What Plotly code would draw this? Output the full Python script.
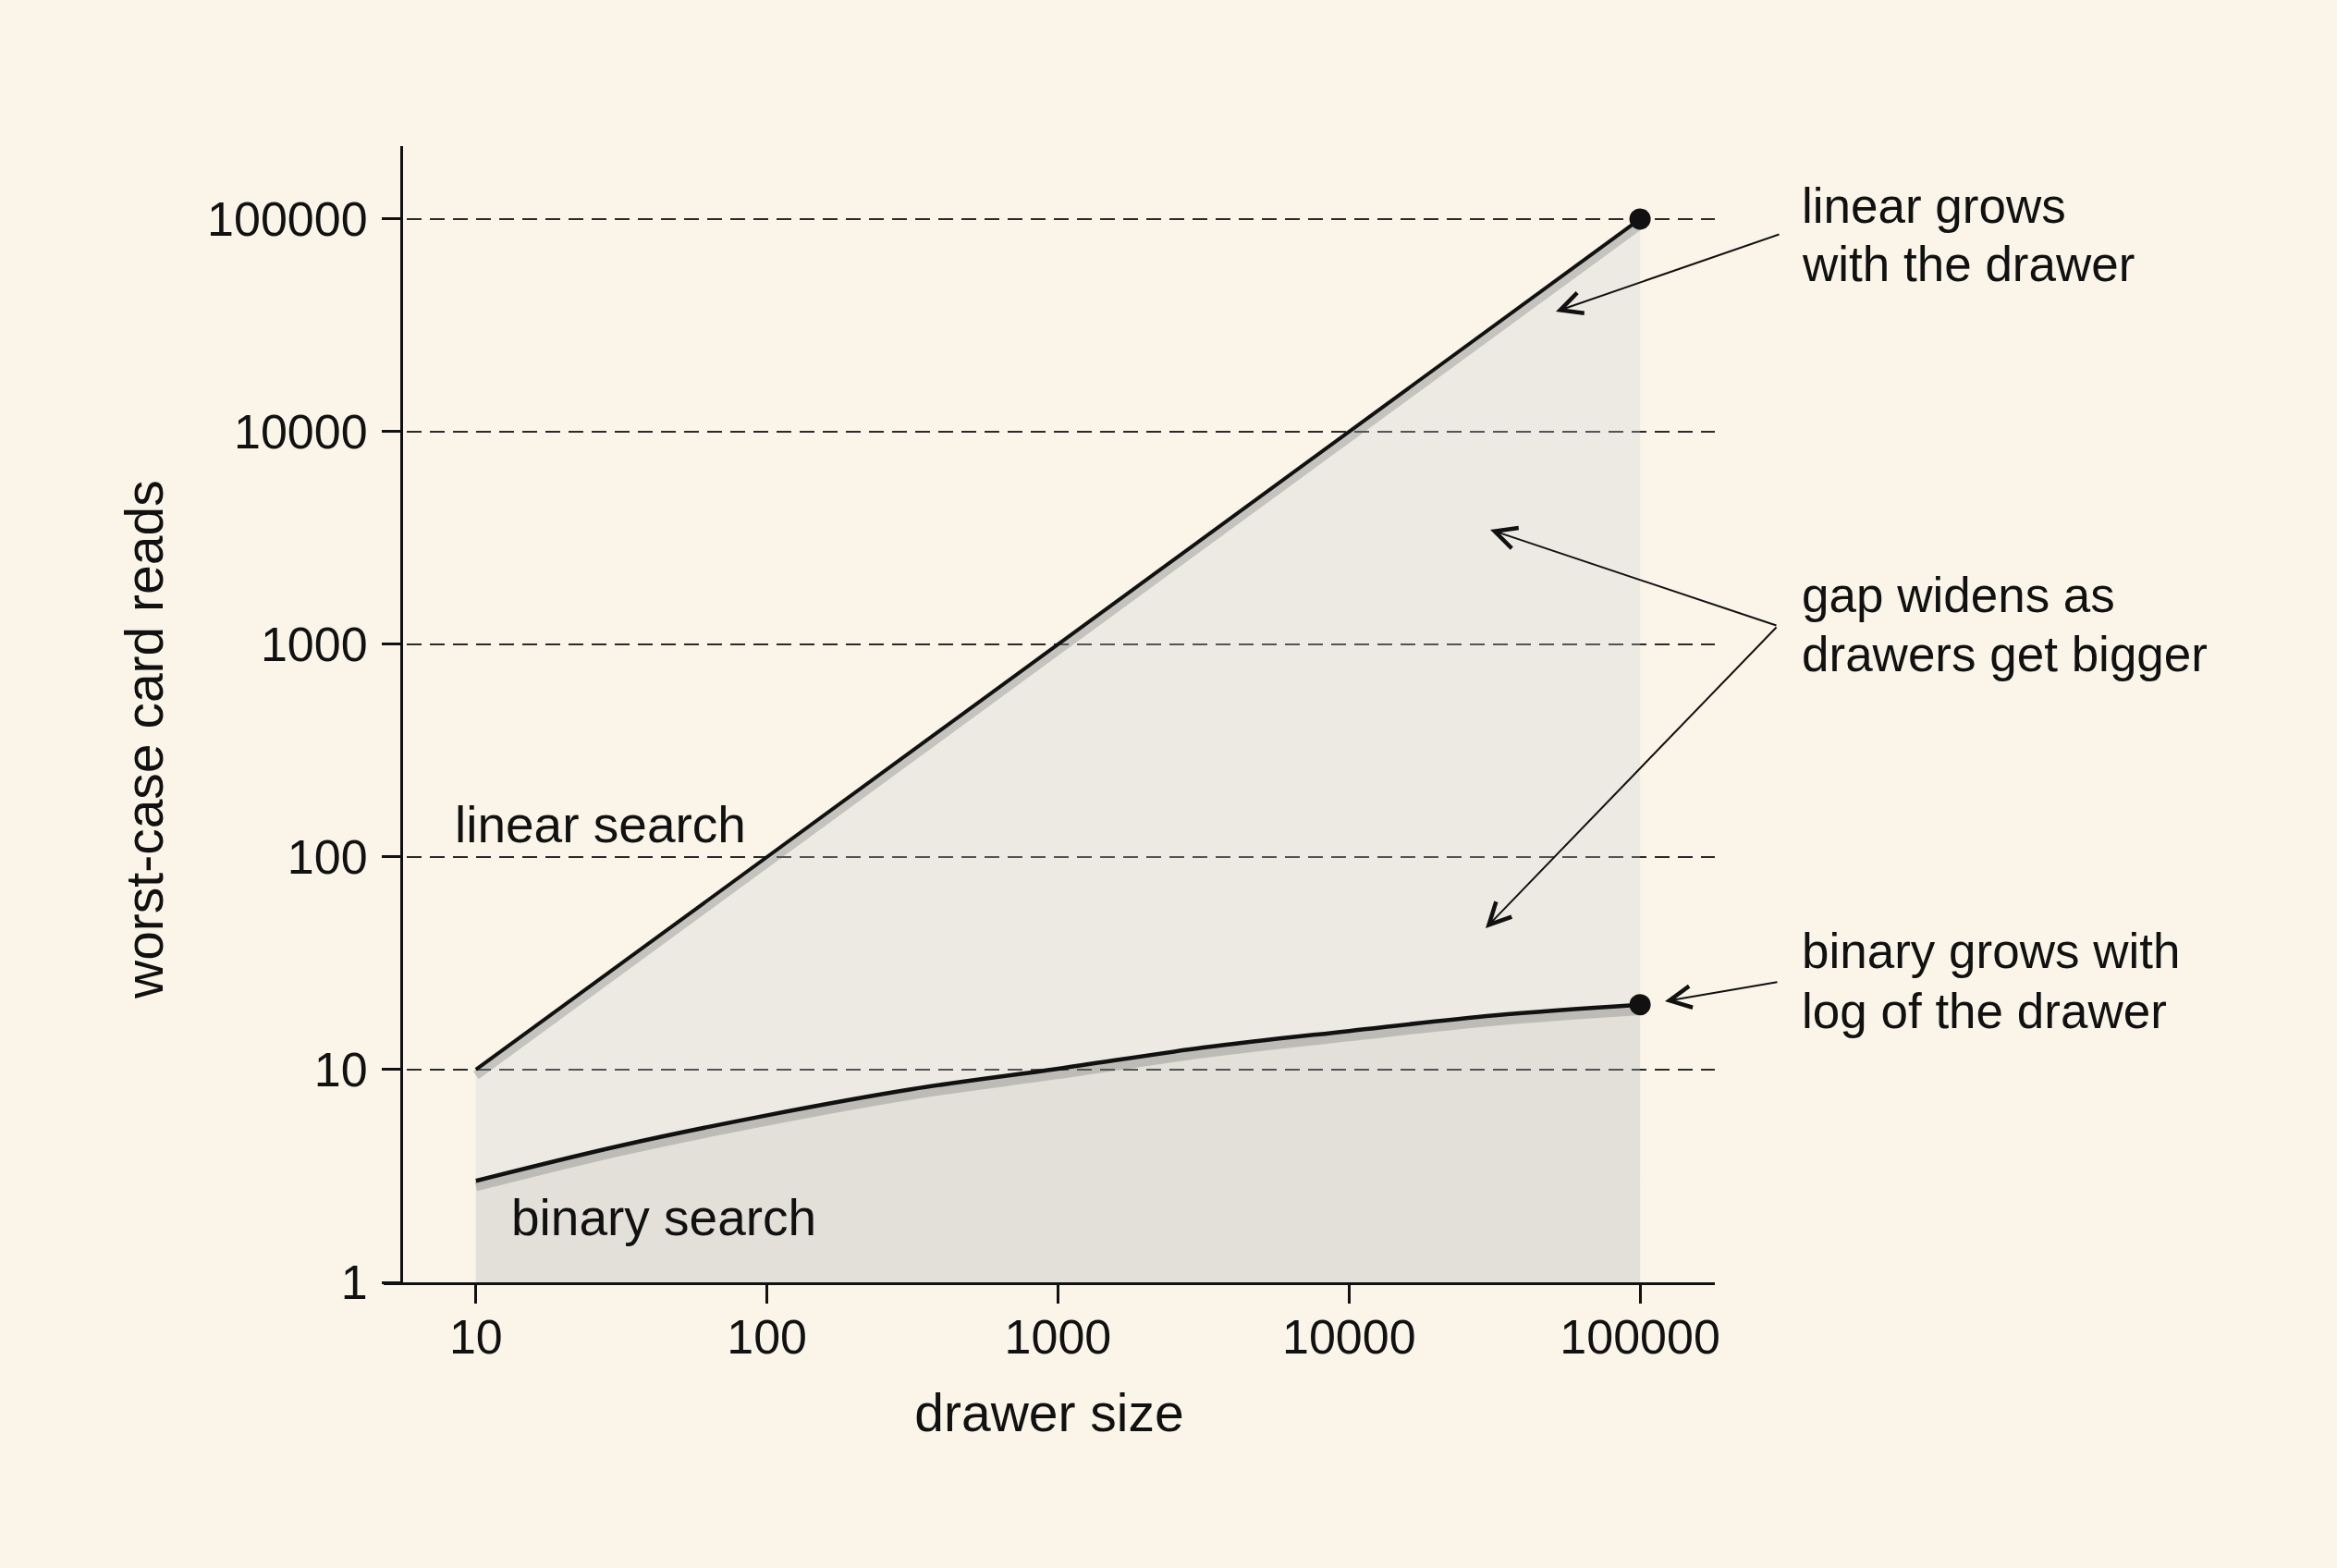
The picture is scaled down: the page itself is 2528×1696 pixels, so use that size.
import plotly.graph_objects as go

# ---- data ----
drawer_sizes_linear = [10, 100, 1000, 10000, 100000]
linear_reads = [10, 100, 1000, 10000, 100000]
drawer_sizes_binary = [10, 31.6, 100, 316, 1000, 3162, 10000, 31623, 100000]
binary_reads = [3.0, 4.4, 6.1, 8.1, 10.1, 12.7, 15.2, 18.0, 20.2]
x_ticks = [10, 100, 1000, 10000, 100000]
x_tick_labels = ["10", "100", "1000", "10000", "100000"]
y_ticks = [1, 10, 100, 1000, 10000, 100000]
y_tick_labels = ["1", "10", "100", "1000", "10000", "100000"]

FONT = "Liberation Sans, Arial, Helvetica, sans-serif"
INK = "#111111"
BG = "#faf5e8"

fig = go.Figure()

# floor of the wash (bottom of the value axis)
floor = [y_ticks[0]] * len(drawer_sizes_binary)
fig.add_trace(go.Scatter(x=drawer_sizes_binary, y=floor, mode="lines",
                         line=dict(width=0, color="rgba(0,0,0,0)"),
                         hoverinfo="skip", showlegend=False))
# darker wash under binary
fig.add_trace(go.Scatter(x=drawer_sizes_binary, y=binary_reads, mode="lines",
                         line=dict(width=0, color="rgba(0,0,0,0)", shape="spline"),
                         fill="tonexty", fillcolor="rgba(172,175,182,0.30)",
                         hoverinfo="skip", showlegend=False))
# light wash between the two lines
fig.add_trace(go.Scatter(x=drawer_sizes_linear, y=linear_reads, mode="lines",
                         line=dict(width=0, color="rgba(0,0,0,0)"),
                         fill="tonexty", fillcolor="rgba(198,203,212,0.26)",
                         hoverinfo="skip", showlegend=False))

# soft shadows under the lines
shadow = 0.94
fig.add_trace(go.Scatter(x=drawer_sizes_linear, y=[v * shadow for v in linear_reads],
                         mode="lines", line=dict(width=10, color="rgba(95,93,90,0.28)"),
                         hoverinfo="skip", showlegend=False))
fig.add_trace(go.Scatter(x=drawer_sizes_binary, y=[v * shadow for v in binary_reads],
                         mode="lines", line=dict(width=10, color="rgba(95,93,90,0.28)", shape="spline"),
                         hoverinfo="skip", showlegend=False))

# main lines
fig.add_trace(go.Scatter(x=drawer_sizes_linear, y=linear_reads, mode="lines",
                         name="linear search", line=dict(width=4, color=INK),
                         showlegend=False))
fig.add_trace(go.Scatter(x=drawer_sizes_binary, y=binary_reads, mode="lines",
                         name="binary search", line=dict(width=4.5, color=INK, shape="spline"),
                         showlegend=False))
# end dots
fig.add_trace(go.Scatter(x=[drawer_sizes_linear[-1], drawer_sizes_binary[-1]],
                         y=[linear_reads[-1], binary_reads[-1]], mode="markers",
                         marker=dict(size=23, color=INK), showlegend=False))

# plot area in pixels
W, H = 2528, 1696
L, R, T, B = 415, 673, 158, 309
PW, PH = W - L - R, H - T - B


def px(xp):
    return (xp - L) / PW


def py(yp):
    return (H - B - yp) / PH


annotations = []
# right-hand notes (one annotation per line)
notes = [
    ("linear grows", 222.6), ("with the drawer", 285.6),
    ("gap widens as", 643.6), ("drawers get bigger", 707.6),
    ("binary grows with", 1028.6), ("log of the drawer", 1093.6),
]
for txt, yy in notes:
    annotations.append(dict(text=txt, x=px(1947), y=py(yy), xref="paper", yref="paper",
                            xanchor="left", yanchor="middle", showarrow=False,
                            font=dict(size=53, color=INK, family=FONT)))

# series labels
annotations.append(dict(text="linear search", x=px(490), y=py(892), xref="paper", yref="paper",
                        xanchor="left", yanchor="middle", showarrow=False,
                        font=dict(size=55, color=INK, family=FONT)))
annotations.append(dict(text="binary search", x=px(551), y=py(1317), xref="paper", yref="paper",
                        xanchor="left", yanchor="middle", showarrow=False,
                        font=dict(size=55, color=INK, family=FONT)))

# value-axis title (placed as text so it sits where the reference has it)
annotations.append(dict(text="worst-case card reads", x=px(156), y=py(800), xref="paper", yref="paper",
                        xanchor="center", yanchor="middle", textangle=-90, showarrow=False,
                        font=dict(size=57, color=INK, family=FONT)))

# arrows: (head_x, head_y, tail_x, tail_y) in pixels
arrows = [
    (1683, 337, 1926, 253),
    (1612, 573, 1923, 677),
    (1607, 1004, 1923, 677),
    (1801, 1083, 1924, 1062),
]
for hx, hy, tx, ty in arrows:
    annotations.append(dict(text="", x=px(hx), y=py(hy), xref="paper", yref="paper",
                            ax=tx - hx, ay=ty - hy, axref="pixel", ayref="pixel",
                            showarrow=True, arrowhead=5, arrowsize=2.3, arrowwidth=2,
                            arrowcolor=INK, standoff=0))

fig.update_layout(
    width=W, height=H, autosize=False,
    margin=dict(l=L, r=R, t=T, b=B, pad=0),
    paper_bgcolor=BG, plot_bgcolor=BG,
    font=dict(family=FONT, color=INK, size=52),
    showlegend=False,
    annotations=annotations,
    xaxis=dict(
        type="log", range=[0.683, 5.257],
        tickmode="array", tickvals=x_ticks, ticktext=x_tick_labels,
        ticks="outside", ticklen=20, tickwidth=2.5, tickcolor=INK,
        ticklabelstandoff=-8,
        showline=True, linewidth=3, linecolor=INK,
        showgrid=False, zeroline=False,
        tickfont=dict(size=52, color=INK, family=FONT),
        title=dict(text="drawer size", font=dict(size=57, color=INK, family=FONT), standoff=34),
        anchor="y",
    ),
    xaxis2=dict(
        type="log", range=[0.683, 5.257], overlaying="x", anchor="y", side="bottom",
        tickmode="array", tickvals=x_ticks,
        ticks="inside", ticklen=20, tickwidth=2.5, tickcolor=INK,
        showticklabels=False, showline=False, showgrid=False, zeroline=False,
    ),
    yaxis=dict(
        type="log", range=[0, 5.343],
        tickmode="array", tickvals=y_ticks, ticktext=y_tick_labels,
        ticks="outside", ticklen=20, tickwidth=2.5, tickcolor=INK,
        ticklabelstandoff=5,
        showline=True, linewidth=3, linecolor=INK,
        showgrid=True, gridcolor="#2a2a2a", gridwidth=1.5, griddash="16px,9px",
        zeroline=False,
        tickfont=dict(size=52, color=INK, family=FONT),
        anchor="free", position=19 / PW,
    ),
)

fig.write_html("out.html")
